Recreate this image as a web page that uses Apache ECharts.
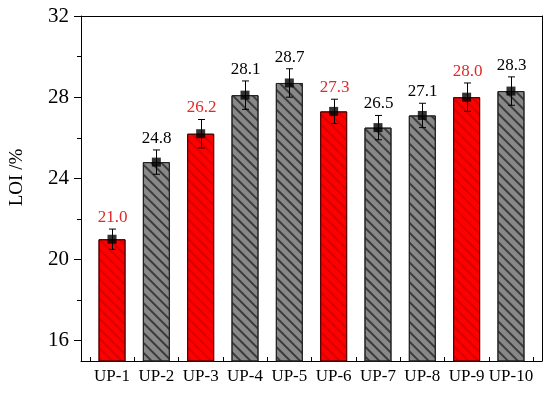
<!DOCTYPE html>
<html><head><meta charset="utf-8">
<script src="https://cdn.jsdelivr.net/npm/echarts@6/dist/echarts.min.js"></script>
<style>html,body{margin:0;padding:0;background:#fff}#c{width:550px;height:393px}</style>
</head><body><div id="c"></div>
<script>
var categories = ['UP-1','UP-2','UP-3','UP-4','UP-5','UP-6','UP-7','UP-8','UP-9','UP-10'];
var values = [21.0, 24.8, 26.2, 28.1, 28.7, 27.3, 26.5, 27.1, 28.0, 28.3];
var errors = [0.5, 0.6, 0.7, 0.7, 0.7, 0.6, 0.6, 0.6, 0.7, 0.7];
var redIdx = [0, 2, 5, 8];
var yTicks = [16, 20, 24, 28, 32];
var yMinorTicks = [18, 22, 26, 30];

var FONT = 'Liberation Serif';
var xs = categories.map(function(c, i){ return i + 1; });
var xTickVals = [0.5].concat(xs.map(function(x){ return x + 0.5; }));
var redData = [], grayData = [];
values.forEach(function(v, i){
  if (redIdx.indexOf(i) >= 0) redData.push([xs[i], v]); else grayData.push([xs[i], v]);
});
var errData = values.map(function(v, i){ return [xs[i], v, errors[i], redIdx.indexOf(i) >= 0 ? 1 : 0]; });
var ptData = values.map(function(v, i){ return [xs[i], v]; });

var chart = echarts.init(document.getElementById('c'), null, {renderer: 'canvas'});
var X = {min: 0.3, max: 10.7};
var Y = {min: 15, max: 32};
chart.setOption({
  animation: false,
  textStyle: {fontFamily: FONT},
  grid: {left: 80, right: 8, top: 16, bottom: 32, containLabel: false},
  xAxis: [{
    type: 'value', min: X.min, max: X.max, position: 'bottom',
    splitLine: {show: false},
    axisLine: {lineStyle: {color: '#000', width: 1}},
    axisTick: {show: true, inside: true, length: 4, customValues: xTickVals, lineStyle: {color: '#000'}},
    axisLabel: {customValues: xs, margin: 7, color: '#000', fontSize: 17, fontFamily: FONT,
      formatter: function(v){ return categories[Math.round(v) - 1] || ''; }}
  }, {
    type: 'value', min: X.min, max: X.max, position: 'top',
    splitLine: {show: false}, axisTick: {show: false}, axisLabel: {show: false},
    axisLine: {lineStyle: {color: '#000', width: 1}}
  }],
  yAxis: [{
    type: 'value', min: Y.min, max: Y.max, position: 'left',
    name: 'LOI /%', nameLocation: 'middle', nameGap: 54, nameRotate: 90,
    nameTextStyle: {color: '#000', fontSize: 19, fontFamily: FONT, padding: [0, 0, 0, 22]},
    splitLine: {show: false},
    axisLine: {show: true, lineStyle: {color: '#000', width: 1}},
    axisTick: {show: true, length: 7, customValues: yTicks, lineStyle: {color: '#000'}},
    axisLabel: {customValues: yTicks, margin: 12, color: '#000', fontSize: 21, fontFamily: FONT}
  }, {
    type: 'value', min: Y.min, max: Y.max, position: 'left',
    splitLine: {show: false}, axisLine: {show: false},
    axisTick: {show: true, length: 4, customValues: yMinorTicks, lineStyle: {color: '#000'}},
    axisLabel: {show: false}
  }, {
    type: 'value', min: Y.min, max: Y.max, position: 'right',
    splitLine: {show: false}, axisTick: {show: false}, axisLabel: {show: false},
    axisLine: {show: true, lineStyle: {color: '#000', width: 1}}
  }],
  series: [{
    type: 'bar', data: redData, barWidth: 27, barGap: '-100%', z: 2,
    itemStyle: {color: '#ff0000', borderColor: '#500', borderWidth: 1,
      decal: {symbol: 'rect', dashArrayX: [1, 0], dashArrayY: [1.2, 4.3], rotation: Math.PI / 4, color: 'rgba(170,0,0,0.45)'}}
  }, {
    type: 'bar', data: grayData, barWidth: 27, barGap: '-100%', z: 2,
    itemStyle: {color: '#888888', borderColor: '#222', borderWidth: 1,
      decal: {symbol: 'rect', dashArrayX: [1, 0], dashArrayY: [1.2, 4.3], rotation: Math.PI / 4, color: 'rgba(40,40,40,0.8)'}}
  }, {
    type: 'custom', data: errData, z: 5, clip: false,
    renderItem: function(params, api){
      var x = api.value(0), v = api.value(1), e = api.value(2), red = api.value(3);
      var top = api.coord([x, v + e]), bot = api.coord([x, v - e]);
      var cx = Math.round(top[0]) + 0.5;
      var cw = 3.5;
      var ls = {stroke: '#000', lineWidth: 1};
      return {type: 'group', children: [
        {type: 'line', shape: {x1: cx, y1: top[1], x2: cx, y2: bot[1]}, style: ls},
        {type: 'line', shape: {x1: cx - cw, y1: top[1], x2: cx + cw, y2: top[1]}, style: ls},
        {type: 'line', shape: {x1: cx - cw, y1: bot[1], x2: cx + cw, y2: bot[1]}, style: ls},
        {type: 'text', style: {text: values[params.dataIndex].toFixed(1), x: cx, y: top[1] - 3,
          textAlign: 'center', textVerticalAlign: 'bottom', fill: red ? '#e02a2a' : '#000',
          font: '17px "Liberation Serif"'}}
      ]};
    }
  }, {
    type: 'scatter', data: ptData, symbol: 'rect', symbolSize: 9, z: 6,
    itemStyle: {color: '#000'}
  }]
});
</script></body></html>
